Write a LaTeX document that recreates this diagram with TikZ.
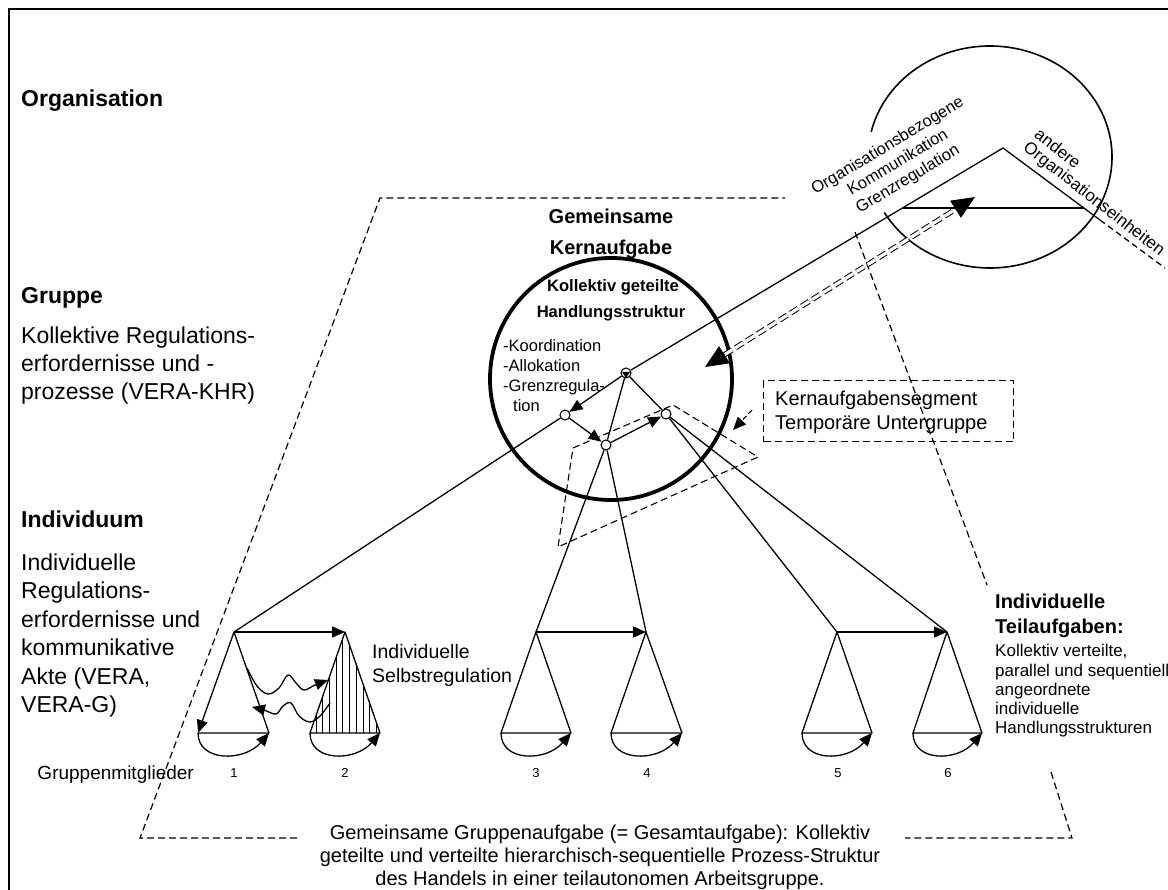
\documentclass[tikz,border=0pt]{standalone}
\usepackage{fontspec}
\setmainfont{Liberation Sans}
\usetikzlibrary{arrows.meta,calc}
\newcommand\setfs[2]{\fontsize{#1}{#2}\selectfont}
\begin{document}
\begin{tikzpicture}[x=1pt,y=-1pt,
  ln/.style={line width=1.3pt,line join=round},
  tip/.style={-{Triangle[length=13pt,width=11pt]}},
  arr/.style={ln,tip},
  dsh/.style={line width=1.2pt,dash pattern=on 7pt off 4pt},
  dot/.style={circle,draw,line width=1.1pt,fill=white,minimum size=10pt,inner sep=0pt},
  lbl/.style={inner sep=0pt,anchor=base west},
  big/.style={lbl,font=\setfs{23}{28}},
  bigb/.style={lbl,font=\bfseries\setfs{23}{28}},
  mid/.style={lbl,font=\setfs{19.5}{23}},
  head/.style={inner sep=0pt,anchor=base,font=\bfseries\setfs{20}{24}},
  sub/.style={inner sep=0pt,anchor=base,font=\bfseries\setfs{16.6}{20}},
  item/.style={lbl,font=\setfs{16.5}{20}},
  small/.style={lbl,font=\setfs{17}{19.5}},
  num/.style={inner sep=0pt,anchor=base,font=\setfs{13}{15}},
  foot/.style={inner sep=0pt,anchor=base,font=\setfs{20}{23}},
  bigtip/.style={-{Triangle[length=23pt,width=20pt]}}
]
\useasboundingbox (0,0) rectangle (1168,890);

% frame
\coordinate (fBL) at (9,890);
\coordinate (fTL) at (9,9);
\coordinate (fTR) at (1168,9);
\draw[line width=1.3pt] (fBL) -- (fTL) -- (fTR);

% ---------- left column ----------
\node[bigb] (lOrg) at (21,107) {Organisation};
\node[bigb] (lGrp) at (21,304) {Gruppe};
\node[big] (lG1) at (21,344) {Kollektive Regulations-};
\node[big] (lG2) at (21,372) {erfordernisse und -};
\node[big] (lG3) at (21,400) {prozesse (VERA-KHR)};
\node[bigb] (lInd) at (21,528) {Individuum};
\node[big] (lI1) at (21,570) {Individuelle};
\node[big] (lI2) at (21,598.5) {Regulations-};
\node[big] (lI3) at (21,627) {erfordernisse und};
\node[big] (lI4) at (21,655.5) {kommunikative};
\node[big] (lI5) at (21,684) {Akte (VERA,};
\node[big] (lI6) at (21,712.5) {VERA-G)};

% ---------- outer dashed trapezoid (group task) ----------
\coordinate (t1) at (380,198);
\coordinate (t2) at (785,198);
\coordinate (r1) at (855,232);
\coordinate (r2) at (987,585);
\coordinate (r3) at (1051,772);
\coordinate (r4) at (1072,838);
\coordinate (b1) at (140,838);
\coordinate (b2) at (297,838);
\coordinate (b3) at (905,838);
\draw[dsh] (b2) -- (b1) -- (t1) -- (t2);
\draw[dsh] (r1) -- (r2);
\draw[dsh] (r3) -- (r4) -- (b3);

% ---------- organisation circle ----------
\coordinate (ec) at (990,157);
\draw[line width=1.6pt] ($(ec)+(210:122pt and 111pt)$)
  arc[start angle=210,end angle=527,x radius=122pt,y radius=111pt];
\node[rotate=31,align=center,inner sep=0pt,font=\setfs{16.5}{19.5}] (orgtxt) at (898,163)
  {Organisationsbezogene\\Kommunikation\\Grenzregulation};
\node[rotate=-38,anchor=west,inner sep=0pt,font=\setfs{17}{19.5}] (oth1) at (1037,132) {andere};
\node[rotate=-38,anchor=west,inner sep=0pt,font=\setfs{17}{19.5}] (oth2) at (1025,146) {Organisationseinheiten};

% ---------- core task circle ----------
\coordinate (kc) at (611,379);
\draw[line width=3.8pt] (kc) circle[radius=121pt];
\node[head] (kh1) at (611,224) {Gemeinsame};
\node[head] (kh2) at (611,255) {Kernaufgabe};
\node[sub] (ks1) at (613,292) {Kollektiv geteilte};
\node[sub] (ks2) at (611,318) {Handlungsstruktur};
\node[item] (ki1) at (503,352) {-Koordination};
\node[item] (ki2) at (503,372) {-Allokation};
\node[item] (ki3) at (503,392) {-Grenzregula-};
\node[item] (ki4) at (513,412) {tion};

% ---------- core task segment ----------
\coordinate (qa) at (573,448);
\coordinate (qb) at (673,405);
\coordinate (qc) at (758,457);
\coordinate (qd) at (558,547);
\draw[dsh,line width=1.1pt] (qa) -- (qb) -- (qc) -- (qd) -- cycle;
\node[draw,dsh,line width=1.1pt,anchor=north west,minimum width=250pt,minimum height=61pt,inner sep=0pt] (kbox) at (763,380) {};
\node[lbl,font=\setfs{20}{23}] (kb1) at (775,406) {Kernaufgabensegment};
\node[lbl,font=\setfs{20}{23}] (kb2) at (775,430) {Temporäre Untergruppe};
\coordinate (ka) at (752,410);
\coordinate (kz) at (733,430);
\draw[line width=1.1pt,dash pattern=on 5pt off 3pt,tip] (ka) -- (kz);

% ---------- tree nodes ----------
\node[dot] (root) at (626,373) {};
\fill ($(root)+(-4,-1)$) -- ($(root)+(4,-1)$) -- ($(root)+(0,5)$) -- cycle;
\node[dot] (ca) at (565,415) {};
\node[dot] (cb) at (606,445) {};
\node[dot] (cc) at (666,414) {};

\coordinate (a1) at (234,632); \coordinate (bl1) at (198,733); \coordinate (br1) at (269,733);
\coordinate (a2) at (345,632); \coordinate (bl2) at (310,733); \coordinate (br2) at (380,733);
\coordinate (a3) at (536,632); \coordinate (bl3) at (501,733); \coordinate (br3) at (571,733);
\coordinate (a4) at (646,632); \coordinate (bl4) at (611,733); \coordinate (br4) at (682,733);
\coordinate (a5) at (837,632); \coordinate (bl5) at (802,733); \coordinate (br5) at (872,733);
\coordinate (a6) at (947,632); \coordinate (bl6) at (913,733); \coordinate (br6) at (982,733);

% roof towards the organisation
\coordinate (peak) at (1003,148);
\coordinate (rl) at (902.5,208);
\coordinate (rr) at (1084,208);
\coordinate (rend) at (1100,220);
\coordinate (rdash) at (1165,268);

\draw[ln] (a1) -- (ca);
\draw[arr] (root) -- (ca);
\draw[ln] (root) -- (peak) -- (rend);
\draw[ln,dash pattern=on 6pt off 4pt] (rend) -- (rdash);
\draw[ln] (rl) -- (rr);

\draw[arr] (ca) -- (cb);
\draw[arr] (cb) -- (cc);
\draw[ln] (root) -- (cb);
\draw[ln] (root) -- (cc);
\draw[ln] (cb) -- (a3);
\draw[ln] (cb) -- (a4);
\draw[ln] (cc) -- (a5);
\draw[ln] (cc) -- (a6);

% double dashed link to the organisation
\coordinate (dL) at (705,367);
\coordinate (dLb) at (724.5,354.7);
\coordinate (dH) at (975,197);
\coordinate (dHb) at (955.5,209.3);
\draw[line width=1pt,double distance=3.2pt,dash pattern=on 9pt off 4pt] (dLb) -- (dHb);
\draw[line width=1pt,bigtip] (dLb) -- (dL);
\draw[line width=1pt,bigtip] (dHb) -- (dH);

% ---------- individual task triangles ----------
\begin{scope}
  \clip (a2) -- (bl2) -- (br2) -- cycle;
  \foreach \hx in {0,...,10} \draw[line width=0.8pt] ({316+6.7*\hx},628) -- ({316+6.7*\hx},736);
\end{scope}

\draw[ln] (bl1) -- (br1) -- (a1);
\draw[arr] (a1) -- (bl1);
\draw[ln] (bl2) -- (a2) -- (br2) -- cycle;
\draw[ln] (bl3) -- (a3) -- (br3) -- cycle;
\draw[ln] (bl4) -- (a4) -- (br4) -- cycle;
\draw[ln] (bl5) -- (a5) -- (br5) -- cycle;
\draw[ln] (bl6) -- (a6) -- (br6) -- cycle;

\draw[arr] (a1) -- (a2);
\draw[arr] (a3) -- (a4);
\draw[arr] (a5) -- (a6);

\foreach \k in {1,...,6}
  \draw[arr] (bl\k) .. controls +(0,29) and +(-25,29) .. (br\k);

% communicative acts between members 1 and 2
\coordinate (w1s) at (247,668);
\coordinate (w1e) at (328,680);
\coordinate (w2s) at (330,703);
\coordinate (w2e) at (252,707);
\draw[ln,tip] plot[smooth,tension=0.6] coordinates
  {(w1s) (257,686) (268,694) (279,688) (288,675) (296,683) (304,690) (315,685) (w1e)};
\draw[ln,tip] plot[smooth,tension=0.6] coordinates
  {(w2s) (320,716) (310,722) (299,716) (291,703) (283,706) (276,714) (264,710) (w2e)};

\node[mid] (sr1) at (372,658) {Individuelle};
\node[mid] (sr2) at (372,682) {Selbstregulation};

% member numbers
\node[num] (m1) at (234,777) {1};
\node[num] (m2) at (345,777) {2};
\node[num] (m3) at (536,777) {3};
\node[num] (m4) at (647,777) {4};
\node[num] (m5) at (838,777) {5};
\node[num] (m6) at (948,777) {6};
\node[inner sep=0pt,anchor=base east,font=\setfs{19}{22}] (mem) at (194,779) {Gruppenmitglieder};

% ---------- right column ----------
\node[lbl,font=\bfseries\setfs{20}{24}] (rt1) at (995,608) {Individuelle};
\node[lbl,font=\bfseries\setfs{20}{24}] (rt2) at (995,633) {Teilaufgaben:};
\node[small] (rs1) at (995,656) {Kollektiv verteilte,};
\node[small] (rs2) at (995,676) {parallel und sequentiell};
\node[small] (rs3) at (995,695) {angeordnete};
\node[small] (rs4) at (995,714) {individuelle};
\node[small] (rs5) at (995,733) {Handlungsstrukturen};

% ---------- bottom caption ----------
\node[foot] (f1) at (600,839) {Gemeinsame Gruppenaufgabe (= Gesamtaufgabe): Kollektiv};
\node[foot] (f2) at (600,862) {geteilte und verteilte hierarchisch-sequentielle Prozess-Struktur};
\node[foot] (f3) at (600,885) {des Handels in einer teilautonomen Arbeitsgruppe.};
\end{tikzpicture}
\end{document}
